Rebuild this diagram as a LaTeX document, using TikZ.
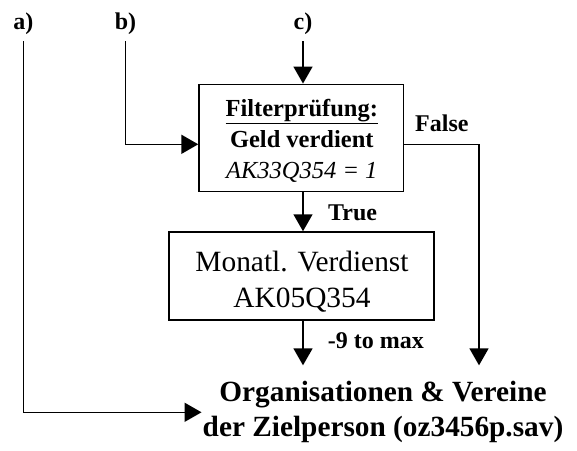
\documentclass[tikz,border=0pt]{standalone}
\usepackage{fontspec}
\setmainfont{Liberation Serif}
\usetikzlibrary{arrows.meta}
\begin{document}
\begin{tikzpicture}[x=1pt,y=-1pt,
  conn/.style={line width=1.6pt, -{Triangle[length=17pt,width=19pt]}},
  boxnode/.style={draw, line width=1.5pt, inner sep=0pt},
  lbl/.style={font=\fontsize{24}{28}\selectfont\bfseries, inner sep=0pt},
  txt/.style={align=center, inner sep=0pt},
]
\useasboundingbox (0,0) rectangle (577,450);
% top labels
\node[lbl, anchor=base] (a) at (23.3,29.3) {a)};
\node[lbl, anchor=base] (b) at (125.5,29.3) {b)};
\node[lbl, anchor=base] (c) at (303,29.3) {c)};
% filter box
\node[boxnode, minimum width=204.3pt, minimum height=107.4pt] (f) at (301.2,138) {};
\node[txt, font=\fontsize{24.5}{31}\selectfont] (ft) at (301.8,141.2)
  {\underline{\textbf{Filterprüfung:}}\\\textbf{Geld verdient}\\\textit{AK33Q354 = 1}};
% value box
\node[boxnode, minimum width=264.7pt, minimum height=88pt] (m) at (301.4,276) {};
\node[txt, font=\fontsize{29.4}{36}\selectfont] (mt) at (302,281.5)
  {Monatl. Verdienst\\AK05Q354};
% target
\node[txt, font=\fontsize{29.3}{35}\selectfont\bfseries, inner xsep=1pt, inner ysep=16pt] (org) at (383,412.3)
  {Organisationen \& Vereine\\der Zielperson (oz3456p.sav)};
\coordinate (fc) at (479,144.3);
% connector labels
\node[lbl, anchor=base west] (tl) at (328,220) {True};
\node[lbl, anchor=base west] (fl) at (415,131.7) {False};
\node[lbl, anchor=base west] (nl) at (327.7,348) {-9 to max};
% connectors
\draw[conn, shorten <=6.4pt] (a.south) |- (org.west);
\draw[conn, shorten <=6.4pt] (b.south) |- (f.west |- fc);
\draw[conn, shorten <=6.4pt] (c.south) -- (c.south |- f.north);
\draw[conn] (f.south -| c.south) -- (m.north -| c.south);
\draw[conn] (m.south -| c.south) -- (org.north -| c.south);
\draw[conn] (f.east |- fc) -| (org.north -| fc);
\end{tikzpicture}
\end{document}
